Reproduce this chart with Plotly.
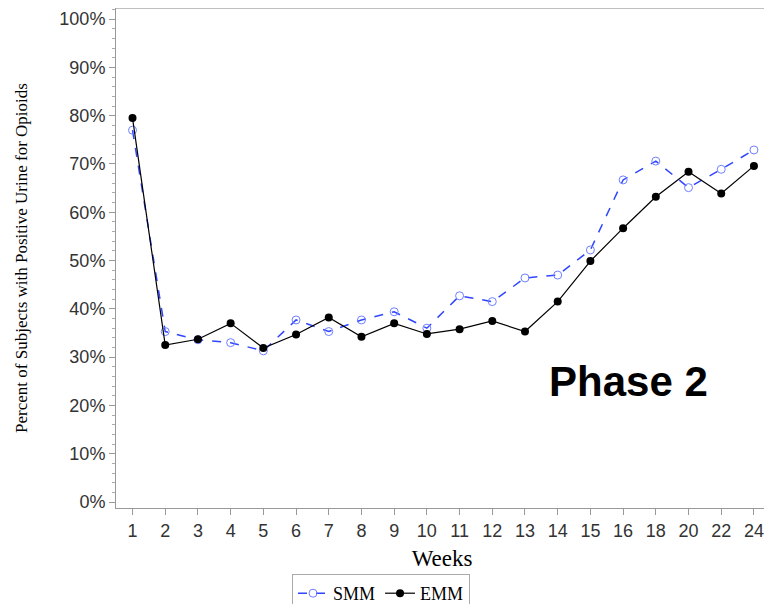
import plotly.graph_objects as go

weeks = ["1", "2", "3", "4", "5", "6", "7", "8", "9", "10", "11", "12", "13", "14", "15", "16", "18", "20", "22", "24"]
smm = [77.0, 35.3, 33.6, 33.0, 31.3, 37.7, 35.3, 37.7, 39.4, 36.0, 42.7, 41.5, 46.4, 47.0, 52.2, 66.7, 70.6, 65.1, 68.9, 72.9]
emm = [79.5, 32.5, 33.7, 37.0, 31.9, 34.7, 38.2, 34.2, 37.0, 34.8, 35.8, 37.5, 35.3, 41.5, 49.9, 56.7, 63.2, 68.4, 63.9, 69.6]
y_ticks = [0, 10, 20, 30, 40, 50, 60, 70, 80, 90, 100]
y_ticklabels = [f"{v}%" for v in y_ticks]

xi = list(range(len(weeks)))

# page body has an 8px margin; figure is sized to fit the remaining window
W, H = 764, 596

fig = go.Figure()
fig.add_trace(go.Scatter(
    x=xi, y=smm, name="SMM", mode="lines+markers",
    line=dict(color="#2f45ff", width=1.5, dash="dash"),
    marker=dict(symbol="circle-open", size=8, color="#7080ff", line=dict(width=1)),
))
fig.add_trace(go.Scatter(
    x=xi, y=emm, name="EMM", mode="lines+markers",
    line=dict(color="black", width=1.2),
    marker=dict(symbol="circle", size=8, color="black"),
))

fig.add_annotation(
    text="<b>Phase 2</b>", xref="paper", yref="paper",
    x=(628 - 116) / 652, y=(508 - 381) / 500, xanchor="center", yanchor="middle",
    showarrow=False, font=dict(family="Liberation Sans", size=42, color="black"),
)

fig.update_layout(
    width=W, height=H,
    margin=dict(l=108, r=4, t=0, b=96, pad=0),
    plot_bgcolor="white", paper_bgcolor="white",
    showlegend=True,
    legend=dict(
        orientation="h", xref="container", yref="container",
        x=(292 - 8) / W, y=(H - (574 - 8)) / H, xanchor="left", yanchor="top",
        bordercolor="#aaaaaa", borderwidth=1,
        font=dict(family="Liberation Serif", size=18, color="black"),
        itemwidth=30,
    ),
    xaxis=dict(
        range=[-0.505, 19.43], tickvals=xi, ticktext=weeks,
        automargin=False,
        showgrid=False, zeroline=False,
        showline=True, linecolor="#999999", linewidth=1, mirror=False,
        ticks="outside", ticklen=6, tickcolor="#999999",
        tickfont=dict(family="Liberation Sans", size=18, color="#333333"),
        title=dict(text="Weeks", font=dict(family="Liberation Serif", size=23, color="black"), standoff=10),
    ),
    yaxis=dict(
        range=[-1.24, 102.3], tickvals=y_ticks, ticktext=y_ticklabels,
        automargin=False,
        showgrid=False, zeroline=False,
        showline=True, linecolor="#999999", linewidth=1,
        ticks="outside", ticklen=6, tickcolor="#999999",
        minor=dict(dtick=2, ticks="outside", ticklen=3, tickcolor="#aaaaaa", showgrid=False),
        tickfont=dict(family="Liberation Sans", size=18, color="#333333"),
        title=dict(text="Percent of Subjects with Positive Urine for Opioids",
                   font=dict(family="Liberation Serif", size=17, color="black"), standoff=27),
    ),
)

# top frame line
fig.add_shape(type="line", xref="paper", yref="paper", x0=0, x1=1, y0=1, y1=1,
              line=dict(color="#aaaaaa", width=1.5))

fig.write_html("out.html")
